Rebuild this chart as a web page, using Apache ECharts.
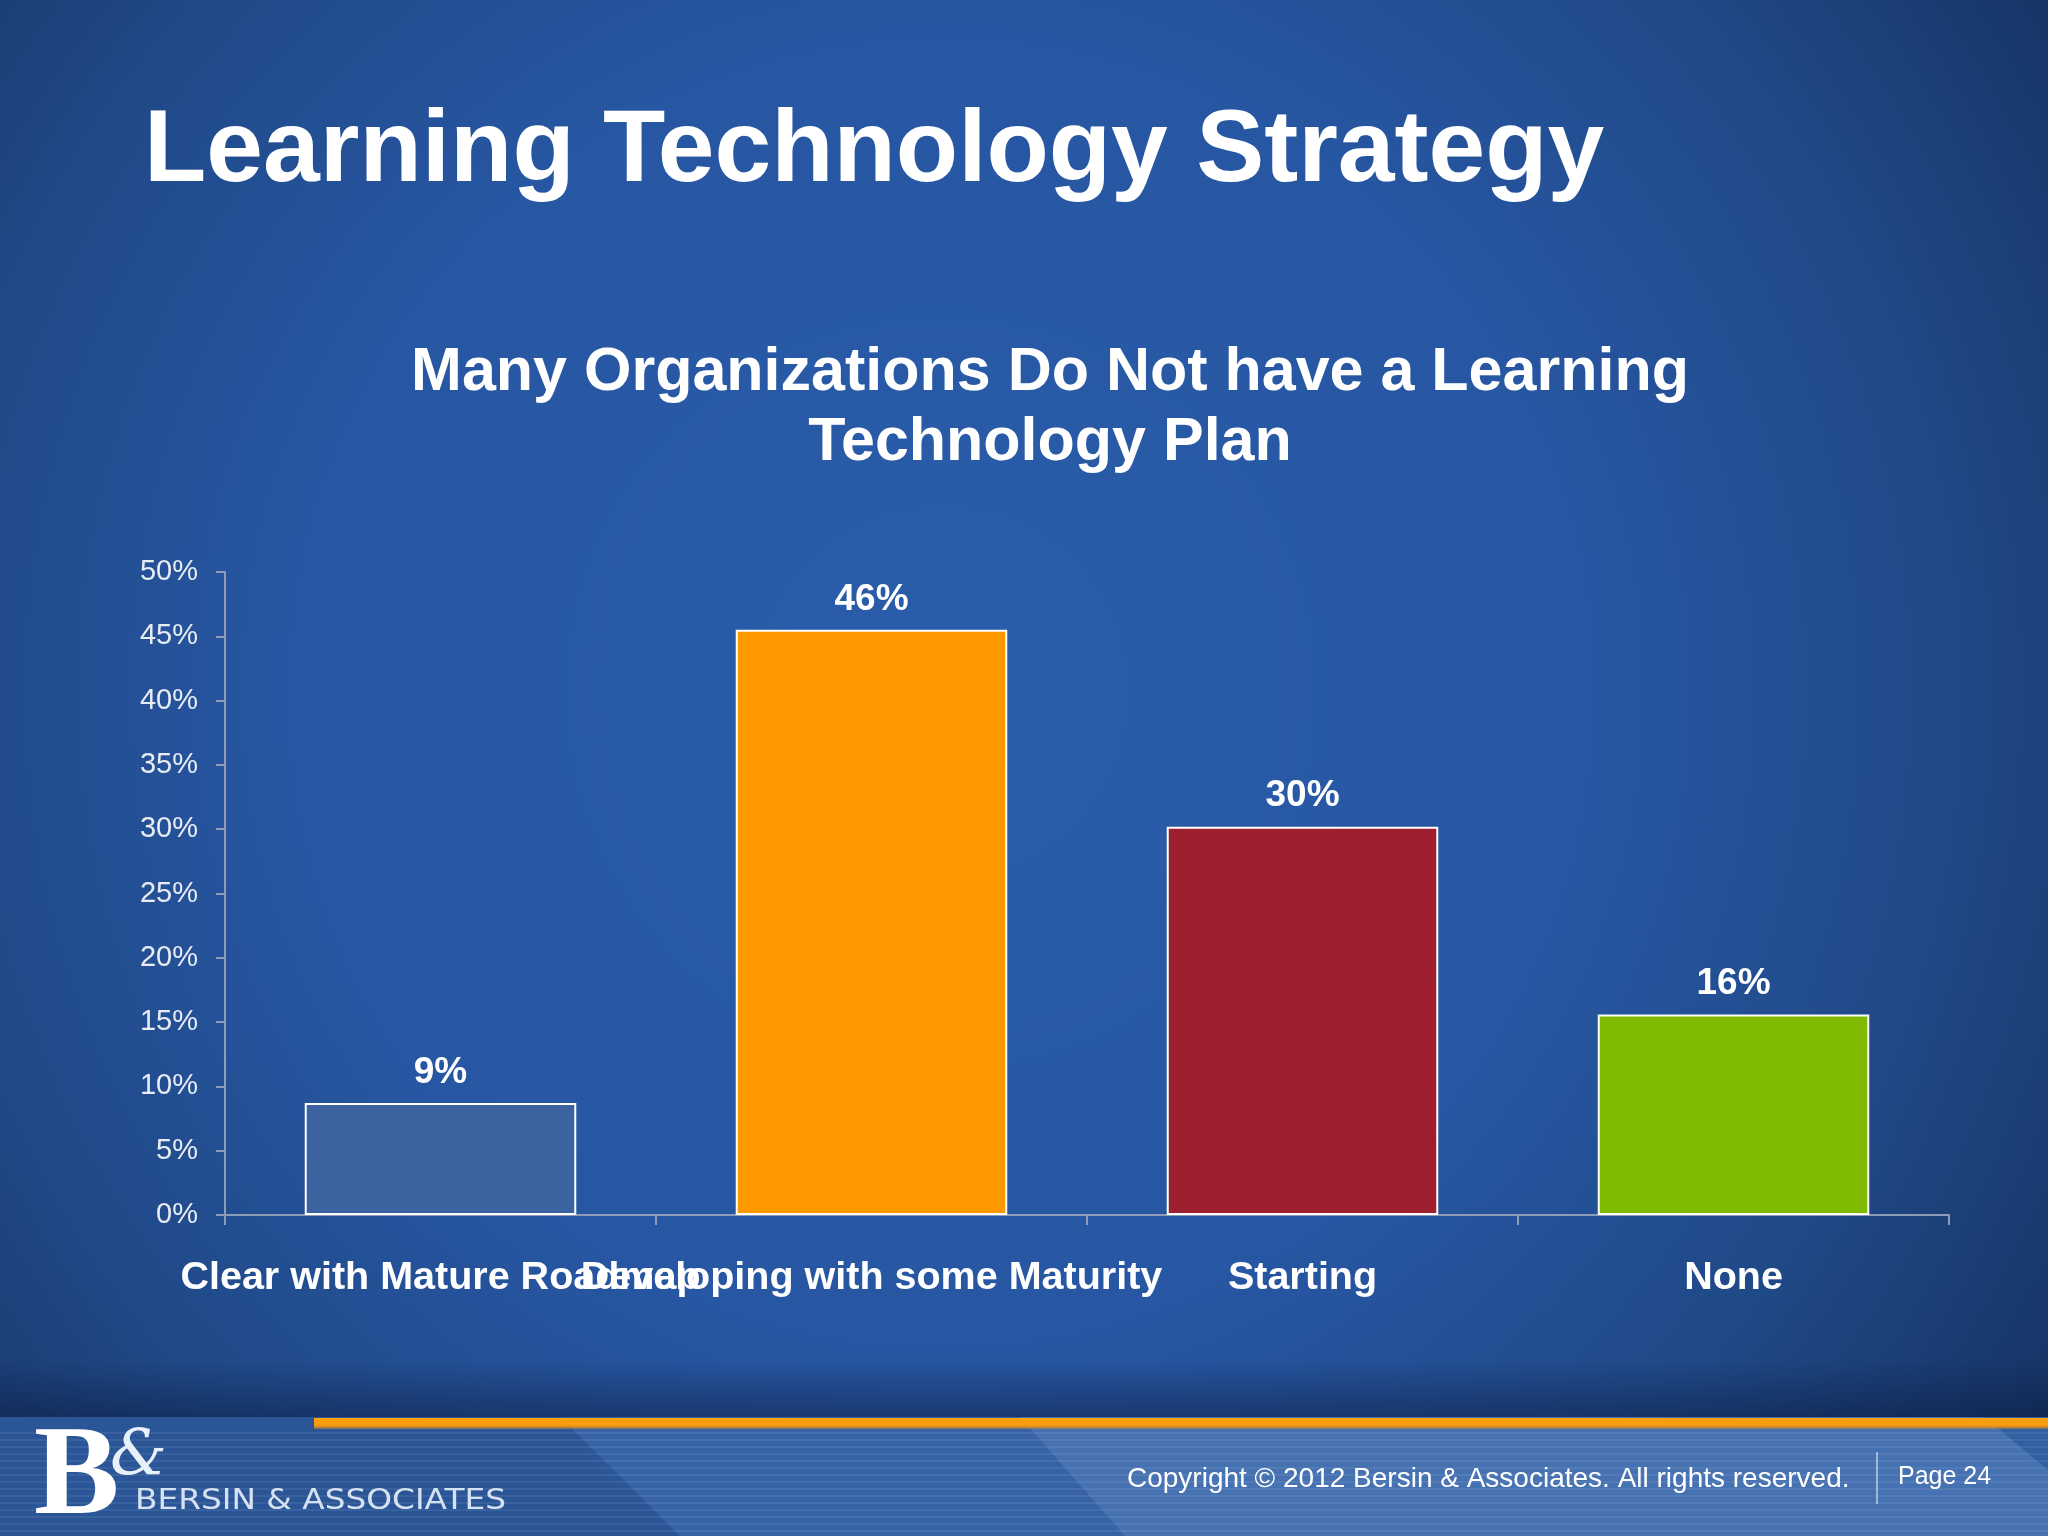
<!DOCTYPE html>
<html>
<head>
<meta charset="utf-8">
<script src="https://cdn.jsdelivr.net/npm/echarts@6/dist/echarts.min.js"></script>
<style>
html,body{margin:0;padding:0;background:#1d4482;}
#chart{width:2048px;height:1536px;}
</style>
</head>
<body>
<div id="chart"></div>
<script>
var categories = ['Clear with Mature Roadmap', 'Developing with some Maturity', 'Starting', 'None'];
var values = [8.7, 45.5, 30.2, 15.6];
var barColors = ['#3A63A0', '#FF9900', '#9E1F2F', '#7FBA00'];
var yTickMax = 50;
var yTickStep = 5;
var pageTitle = 'Learning Technology Strategy';
var chartTitleLines = ['Many Organizations Do Not have a Learning', 'Technology Plan'];
var copyrightText = 'Copyright \u00A9 2012 Bersin & Associates. All rights reserved.';
var pageText = 'Page 24';

var chart = echarts.init(document.getElementById('chart'), null, {renderer: 'canvas'});

var graphics = [];
// footer base
graphics.push({type: 'rect', z: -10, shape: {x: 0, y: 1417, width: 2048, height: 119}, style: {fill: '#2A5596'}});
graphics.push({type: 'polygon', z: -9, shape: {points: [[560, 1417], [2048, 1417], [2048, 1536], [680, 1536]]}, style: {fill: '#3763A6'}});
graphics.push({type: 'polygon', z: -8, shape: {points: [[1020, 1417], [1985, 1417], [2048, 1470], [2048, 1536], [1125, 1536]]}, style: {fill: '#4672B2'}});
graphics.push({type: 'polygon', z: -8, shape: {points: [[1985, 1417], [2048, 1417], [2048, 1470]]}, style: {fill: '#3060A2'}});
for (var sy = 1432; sy < 1536; sy += 7) {
  graphics.push({type: 'rect', z: -7, shape: {x: 0, y: sy, width: 2048, height: 2}, style: {fill: 'rgba(255,255,255,0.07)'}});
}
// dark band above footer
graphics.push({type: 'rect', z: -9, shape: {x: 0, y: 1360, width: 2048, height: 57}, style: {fill: {type: 'linear', x: 0, y: 0, x2: 0, y2: 1, colorStops: [{offset: 0, color: 'rgba(10,25,60,0)'}, {offset: 1, color: 'rgba(10,25,60,0.45)'}]}}});
// orange line
graphics.push({type: 'rect', z: -6, shape: {x: 314, y: 1418, width: 1734, height: 11}, style: {fill: {type: 'linear', x: 0, y: 0, x2: 0, y2: 1, colorStops: [{offset: 0, color: '#FFA20F'}, {offset: 0.7, color: '#F59A10'}, {offset: 1, color: 'rgba(200,130,40,0.5)'}]}}});
// logo
graphics.push({type: 'text', z: 10, style: {x: 34, y: 1480, text: 'B', fill: '#FFFFFF', font: 'bold 128px "Liberation Serif"', verticalAlign: 'middle', align: 'left'}});
graphics.push({type: 'text', z: 10, style: {x: 110, y: 1458, text: '&', fill: '#E8F0FA', font: 'italic 64px "DejaVu Serif"', verticalAlign: 'middle', align: 'left'}});
graphics.push({type: 'text', z: 10, x: 135, y: 1502, scaleX: 1.17, style: {x: 0, y: 0, text: 'BERSIN & ASSOCIATES', fill: '#D6E2F2', font: '28px "DejaVu Sans"', verticalAlign: 'middle', align: 'left'}});
// copyright
graphics.push({type: 'text', z: 10, style: {x: 1127, y: 1479, text: copyrightText, fill: '#FFFFFF', font: '28px "Liberation Sans"', verticalAlign: 'middle', align: 'left'}});
graphics.push({type: 'rect', z: 10, shape: {x: 1876, y: 1452, width: 2, height: 52}, style: {fill: 'rgba(230,238,250,0.55)'}});
graphics.push({type: 'text', z: 10, style: {x: 1898, y: 1477, text: pageText, fill: '#FFFFFF', font: '25px "Liberation Sans"', verticalAlign: 'middle', align: 'left'}});
// titles
graphics.push({type: 'text', z: 10, style: {x: 144, y: 153, text: pageTitle, fill: '#FFFFFF', font: 'bold 102px "Liberation Sans"', verticalAlign: 'middle', align: 'left'}});
graphics.push({type: 'text', z: 10, style: {x: 1050, y: 373, text: chartTitleLines[0], fill: '#FFFFFF', font: 'bold 61px "Liberation Sans"', verticalAlign: 'middle', align: 'center'}});
graphics.push({type: 'text', z: 10, style: {x: 1050, y: 443, text: chartTitleLines[1], fill: '#FFFFFF', font: 'bold 61px "Liberation Sans"', verticalAlign: 'middle', align: 'center'}});

var option = {
  backgroundColor: {
    type: 'radial', x: 0.46, y: 0.45, r: 0.95,
    colorStops: [
      {offset: 0, color: '#2A5DAA'},
      {offset: 0.45, color: '#2756A2'},
      {offset: 0.7, color: '#1F4886'},
      {offset: 1, color: '#122A55'}
    ]
  },
  animation: false,
  graphic: {elements: graphics},
  grid: {left: 225, right: 99, top: 572, bottom: 321, containLabel: false},
  xAxis: {
    type: 'category',
    data: categories,
    axisLine: {show: true, lineStyle: {color: '#8E9DB5', width: 2}},
    axisTick: {show: true, length: 10, lineStyle: {color: '#8E9DB5', width: 2}},
    axisLabel: {
      interval: 0, margin: 43, color: '#FFFFFF',
      fontFamily: 'Liberation Sans', fontWeight: 'bold', fontSize: 39.5,
      hideOverlap: false
    }
  },
  yAxis: {
    type: 'value', min: 0, max: yTickMax, interval: yTickStep,
    axisLine: {show: true, lineStyle: {color: '#8E9DB5', width: 2}},
    axisTick: {show: true, length: 9, lineStyle: {color: '#8E9DB5', width: 2}},
    splitLine: {show: false},
    axisLabel: {formatter: '{value}%', color: '#E8ECF4', fontFamily: 'Liberation Sans', fontSize: 29, margin: 27}
  },
  series: [{
    type: 'bar',
    barWidth: '63%',
    data: values.map(function (v, i) {
      return {value: v, itemStyle: {color: barColors[i], borderColor: '#FFFFFF', borderWidth: 2}};
    }),
    label: {
      show: true, position: 'top', distance: 12,
      formatter: function (p) { return Math.round(p.value) + '%'; },
      color: '#FFFFFF', fontFamily: 'Liberation Sans', fontWeight: 'bold', fontSize: 37
    }
  }]
};
chart.setOption(option);
</script>
</body>
</html>
